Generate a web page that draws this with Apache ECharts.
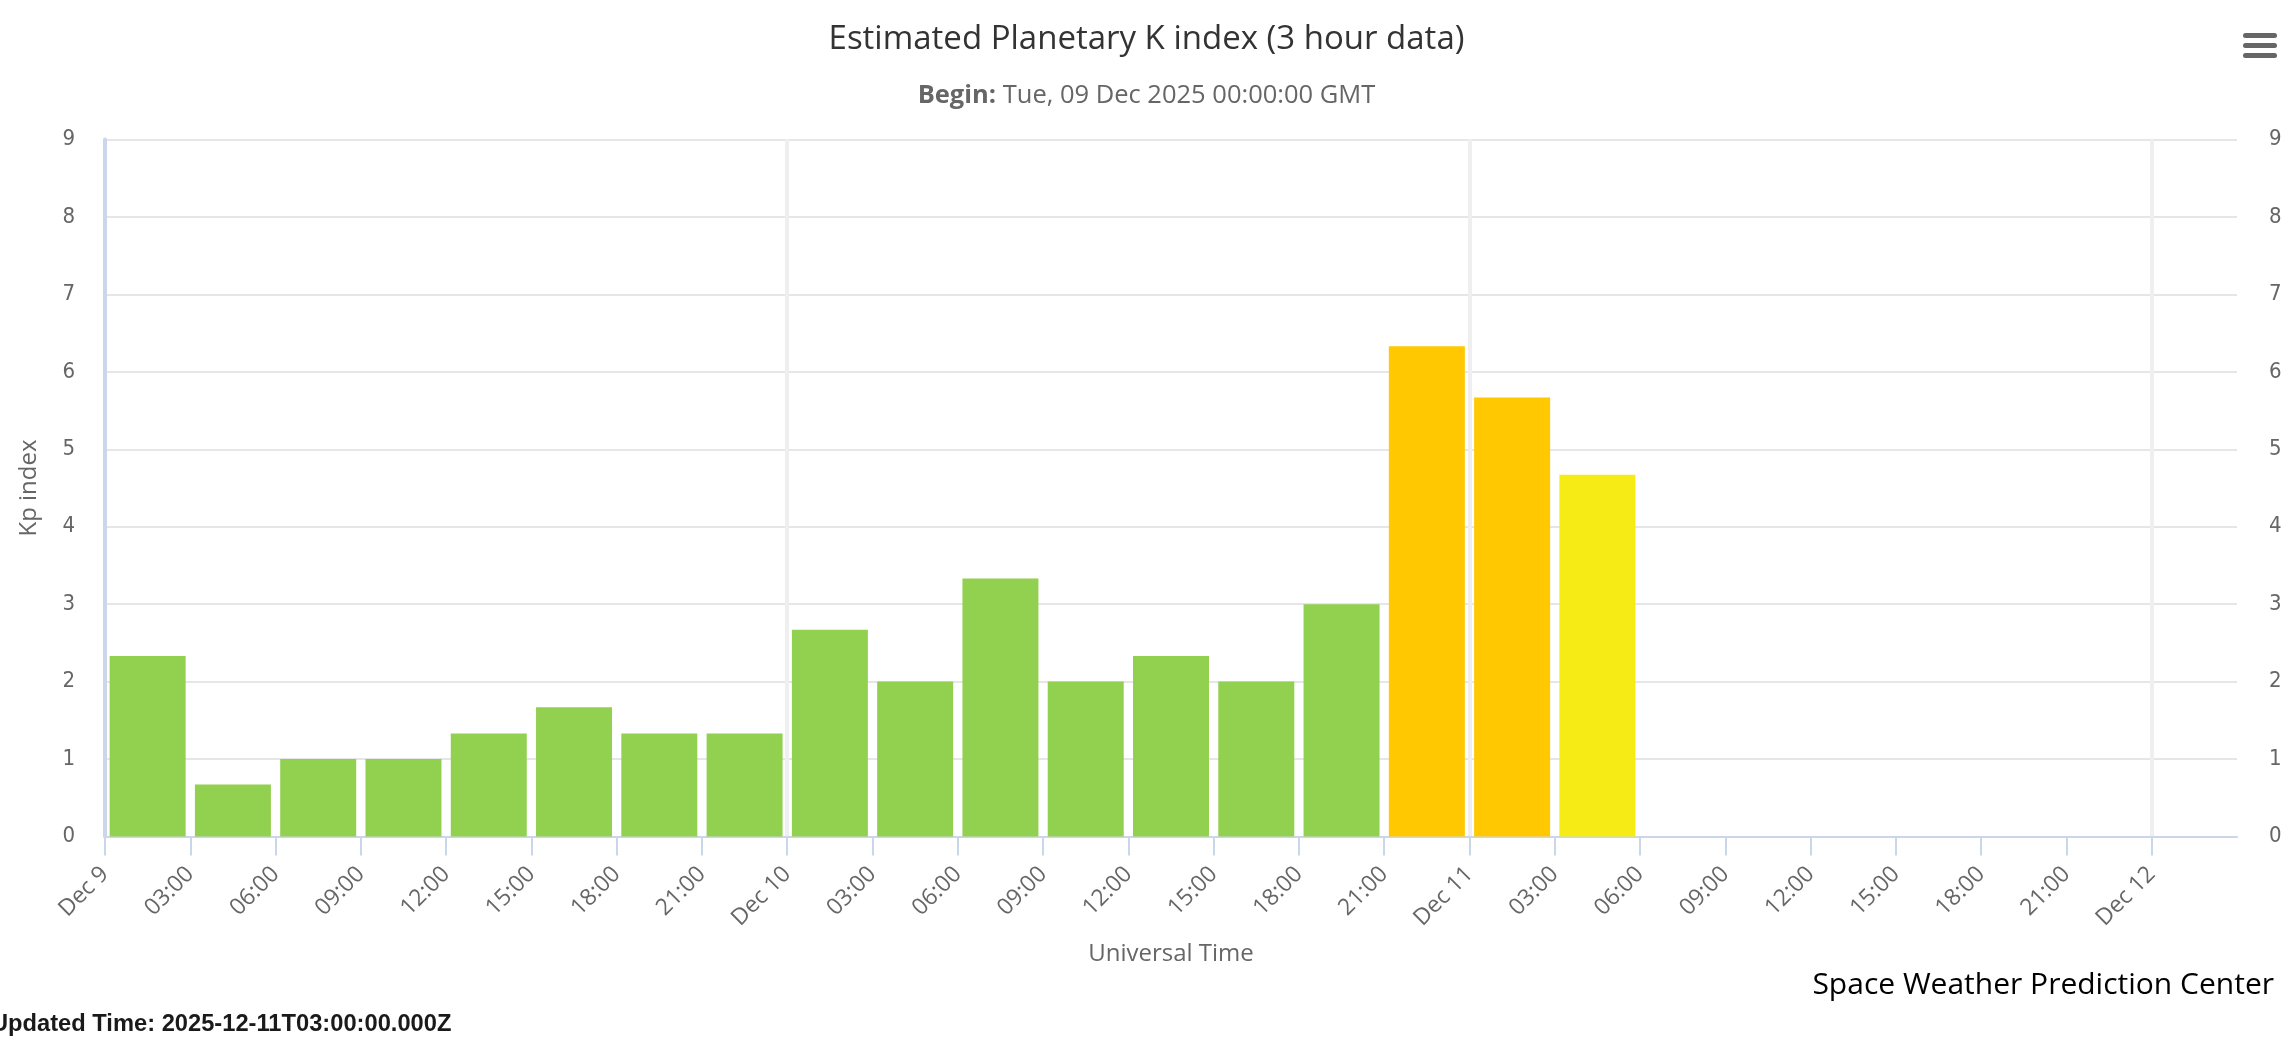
<!DOCTYPE html>
<html>
<head>
<meta charset="utf-8">
<script src="https://cdn.jsdelivr.net/npm/echarts@6/dist/echarts.min.js"></script>
<style>
html,body{margin:0;padding:0;background:#fff;}
#chart{width:2293px;height:1048px;}
</style>
</head>
<body>
<div id="chart"></div>
<script>
// ---- data ----
const binStarts = [
  '2025-12-09T00:00:00Z','2025-12-09T03:00:00Z','2025-12-09T06:00:00Z','2025-12-09T09:00:00Z',
  '2025-12-09T12:00:00Z','2025-12-09T15:00:00Z','2025-12-09T18:00:00Z','2025-12-09T21:00:00Z',
  '2025-12-10T00:00:00Z','2025-12-10T03:00:00Z','2025-12-10T06:00:00Z','2025-12-10T09:00:00Z',
  '2025-12-10T12:00:00Z','2025-12-10T15:00:00Z','2025-12-10T18:00:00Z','2025-12-10T21:00:00Z',
  '2025-12-11T00:00:00Z','2025-12-11T03:00:00Z'
];
const kpValues = [2.33, 0.67, 1.00, 1.00, 1.33, 1.67, 1.33, 1.33, 2.67, 2.00, 3.33, 2.00, 2.33, 2.00, 3.00, 6.33, 5.67, 4.67];
const yTickValues = [0, 1, 2, 3, 4, 5, 6, 7, 8, 9];
const monthName = 'Dec';
const chartTitle = 'Estimated Planetary K index (3 hour data)';
const beginLabel = 'Begin:';
const beginText = 'Tue, 09 Dec 2025 00:00:00 GMT';
const yAxisTitle = 'Kp index';
const xAxisTitle = 'Universal Time';
const creditText = 'Space Weather Prediction Center';
const updatedText = 'Updated Time: 2025-12-11T03:00:00.000Z';
const axisStartIso = '2025-12-09T00:00:00Z';
const axisEndIso = '2025-12-12T03:00:00Z';
const binHours = 3;

// ---- helpers ----
const HOUR = 3600 * 1000;
const axisStart = Date.parse(axisStartIso);
const axisEndHours = (Date.parse(axisEndIso) - axisStart) / HOUR;
const toHours = iso => (Date.parse(iso) - axisStart) / HOUR;
const pad = n => (n < 10 ? '0' : '') + n;
function kpColor(v) {
  if (v < 4) return '#92D050';
  if (v < 5) return '#F6EB14';
  return '#FFC800';
}
const barData = binStarts.map((t, i) => ({
  value: [toHours(t) + binHours / 2, kpValues[i]],
  itemStyle: { color: kpColor(kpValues[i]) }
}));
const tickList = [];
for (let h = 0; h < axisEndHours; h += binHours) tickList.push(h);
function timeLabel(v) {
  const d = new Date(axisStart + v * HOUR);
  if (d.getUTCHours() === 0) return monthName + ' ' + d.getUTCDate();
  return pad(d.getUTCHours()) + ':00';
}

const FONT = '"Open Sans", "Noto Sans", sans-serif';
const NUMFONT = '"DejaVu Sans Condensed", "DejaVu Sans", sans-serif';
const AXISC = '#ccd6eb';

const chart = echarts.init(document.getElementById('chart'), null, { renderer: 'canvas' });
chart.setOption({
  animation: false,
  backgroundColor: '#ffffff',
  title: [
    {
      text: chartTitle, left: 'center', top: 15,
      textStyle: { fontFamily: FONT, fontSize: 33, fontWeight: 'normal', color: '#333333', lineHeight: 40 }
    },
    {
      text: '{b|' + beginLabel + '} ' + beginText, left: 'center', top: 76,
      textStyle: {
        fontFamily: FONT, fontSize: 25.5, color: '#666666', fontWeight: 'normal', lineHeight: 30,
        rich: { b: { fontFamily: FONT, fontSize: 25.5, fontWeight: 'bold', color: '#666666', lineHeight: 30 } }
      }
    },
    {
      text: creditText, right: 14, top: 962,
      textStyle: { fontFamily: FONT, fontSize: 30, fontWeight: 'normal', color: '#000000', lineHeight: 36 }
    },
    {
      text: updatedText, left: -14, top: 1005,
      textStyle: { fontFamily: '"Liberation Sans", Arial, sans-serif', fontSize: 23.7, fontWeight: 'bold', color: '#1a1a1a', lineHeight: 28 }
    }
  ],
  grid: { left: 105, right: 56, top: 139.5, bottom: 211.5, containLabel: false, outerBoundsMode: 'none' },
  xAxis: [
    {
      type: 'value', min: 0, max: axisEndHours, interval: binHours, position: 'bottom',
      name: xAxisTitle, nameLocation: 'middle', nameGap: 106, nameMoveOverlap: false,
      nameTextStyle: { fontFamily: FONT, fontSize: 24, color: '#666666' },
      axisLine: { show: true, onZero: false, lineStyle: { color: AXISC, width: 2 } },
      axisTick: { show: true, length: 19, customValues: tickList, lineStyle: { color: AXISC, width: 2 } },
      axisLabel: {
        show: true, rotate: 45, margin: 34, customValues: tickList,
        fontFamily: FONT, fontSize: 23, color: '#666666', formatter: timeLabel
      },
      splitLine: { show: false }
    },
    {
      type: 'value', min: 0, max: axisEndHours, interval: 24, position: 'top',
      axisLine: { show: false }, axisTick: { show: false }, axisLabel: { show: false },
      splitLine: { show: true, showMinLine: false, showMaxLine: false, lineStyle: { color: '#efefef', width: 4 } }
    }
  ],
  yAxis: [
    {
      type: 'value', min: yTickValues[0], max: yTickValues[yTickValues.length - 1], interval: 1, position: 'left',
      name: yAxisTitle, nameLocation: 'middle', nameGap: 64, nameRotate: 90, nameMoveOverlap: false,
      nameTextStyle: { fontFamily: FONT, fontSize: 24, color: '#666666' },
      axisLine: { show: true, lineStyle: { color: AXISC, width: 4 } },
      axisTick: { show: false },
      axisLabel: { margin: 30, fontFamily: NUMFONT, fontSize: 22, color: '#666666' },
      splitLine: { show: true, lineStyle: { color: '#e6e6e6', width: 2 } }
    },
    {
      type: 'value', min: yTickValues[0], max: yTickValues[yTickValues.length - 1], interval: 1, position: 'right',
      axisLine: { show: false }, axisTick: { show: false },
      axisLabel: { margin: 32, fontFamily: NUMFONT, fontSize: 22, color: '#666666' },
      splitLine: { show: false }
    }
  ],
  series: [
    {
      type: 'bar', xAxisIndex: 0, yAxisIndex: 0, barWidth: 76,
      data: barData, z: 3
    }
  ],
  graphic: [
    { type: 'rect', shape: { x: 2243, y: 33, width: 34, height: 5, r: 2.5 }, style: { fill: '#666666' } },
    { type: 'rect', shape: { x: 2243, y: 43, width: 34, height: 5, r: 2.5 }, style: { fill: '#666666' } },
    { type: 'rect', shape: { x: 2243, y: 53, width: 34, height: 5, r: 2.5 }, style: { fill: '#666666' } }
  ]
});
</script>
</body>
</html>
